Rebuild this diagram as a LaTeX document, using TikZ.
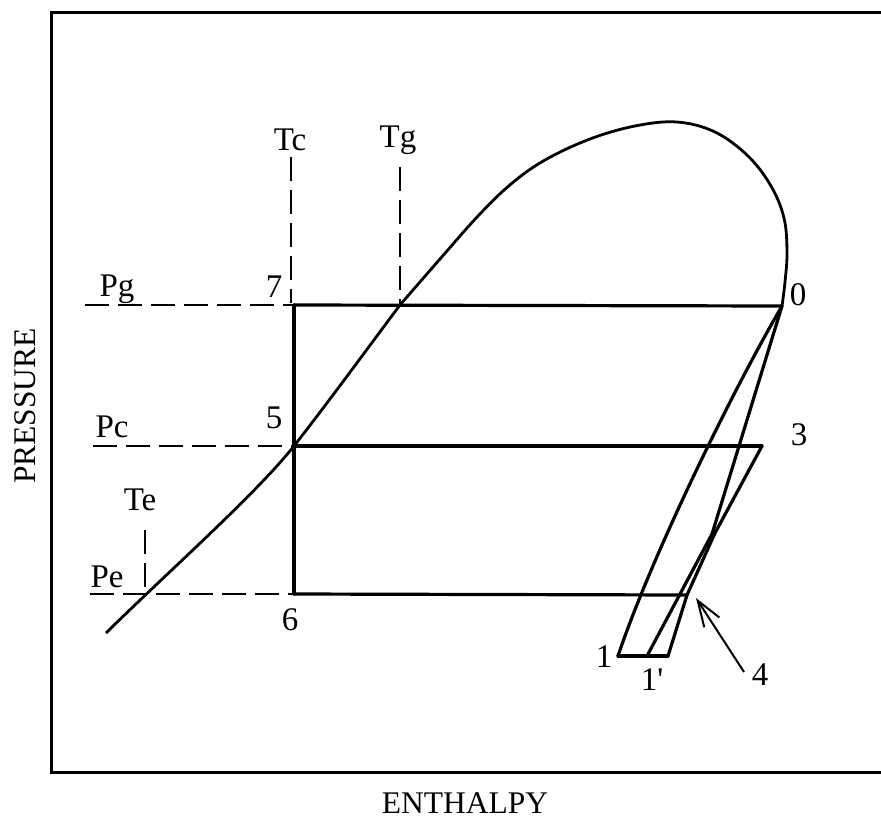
\documentclass[tikz,border=0pt]{standalone}
\usepackage{fontspec}
\setmainfont{Liberation Serif}
\usetikzlibrary{arrows.meta}
\begin{document}
\begin{tikzpicture}[x=1pt,y=-1pt,
  lbl/.style={anchor=base, inner sep=0pt, font=\fontsize{33}{38}\selectfont},
  axlbl/.style={inner sep=0pt, font=\fontsize{31.5}{36}\selectfont},
  solidln/.style={line width=3.2pt, line join=round, line cap=round},
  curveln/.style={line width=2.8pt, line join=round},
  dashln/.style={line width=2.2pt, dash pattern=on 24pt off 9pt},
  framer/.style={line width=3pt}]
\useasboundingbox (0,0) rectangle (881,819);

% frame
\coordinate (fTR) at (881,12);
\coordinate (fTL) at (51,12);
\coordinate (fBL) at (51,772);
\coordinate (fBR) at (881,772);
\draw[framer] (fTR) -- (fTL) -- (fBL) -- (fBR);

% key points
\coordinate (p7) at (294,305);
\coordinate (p5) at (294,446);
\coordinate (p6) at (294,594);
\coordinate (p0) at (782,306);
\coordinate (p3) at (762,446);
\coordinate (p4) at (687,595);
\coordinate (pX) at (712,534);
\coordinate (pY) at (715,533);
\coordinate (p1) at (618,656);
\coordinate (p1p) at (647,656);
\coordinate (pR) at (668,656);
\coordinate (pTg) at (400,305);
\coordinate (pTe) at (145,594);
\coordinate (pS) at (106,633);

% saturation dome
\draw[curveln] (pS) .. controls (170,570) and (255,495) .. (p5)
  .. controls (330,400) and (370,345) .. (pTg)
  plot[smooth, tension=0.6] coordinates {(pTg) (440,259) (478,216) (511,184) (545,160) (590,139) (635,126) (677,122) (715,132) (748,156) (771,186) (784,218) (787,252) (785,282) (p0)};

% cycle lines
\draw[solidln] (p7) -- (p0);
\draw[solidln] (p5) -- (p3);
\draw[solidln] (p6) -- (p4);
\draw[solidln] (p7) -- (p6);
\draw[solidln] (p1) -- (pR);
\draw[solidln] (p3) -- (pY) -- (p4) -- (pR);
\draw[solidln] (p0) -- (pX) -- (p1p);
\draw[solidln] (p0) .. controls (730,395) and (650,560) .. (p1);

% dashed guide lines
\coordinate (pgL) at (85,305);
\coordinate (pcL) at (93,446);
\coordinate (peL) at (90,594);
\coordinate (tcT) at (291,157);
\coordinate (tcB) at (291,303);
\coordinate (tgT) at (400,167);
\coordinate (teT) at (145,530);
\draw[dashln] (pgL) -- (p7);
\draw[dashln] (pcL) -- (p5);
\draw[dashln] (peL) -- (p6);
\draw[dashln] (tcT) -- (tcB);
\draw[dashln] (tgT) -- (pTg);
\draw[dashln] (teT) -- (pTe);

% labels
\node[lbl] (lTc) at (290,150) {Tc};
\node[lbl] (lTg) at (398,147) {Tg};
\node[lbl] (lTe) at (140,510) {Te};
\node[lbl] (lPg) at (117,296) {Pg};
\node[lbl] (lPc) at (112,437) {Pc};
\node[lbl] (lPe) at (107,587) {Pe};
\node[lbl] (l7) at (274,297) {7};
\node[lbl] (l5) at (274,428) {5};
\node[lbl] (l6) at (290,630) {6};
\node[lbl] (l0) at (798,305) {0};
\node[lbl] (l3) at (799,445) {3};
\node[lbl] (l1) at (604,667) {1};
\node[lbl] (l1p) at (652,690) {1\textquotesingle};
\node[lbl] (l4) at (760,685) {4};

% arrow to point 4
\coordinate (a4s) at (744,672);
\coordinate (a4e) at (696,598);
\draw[line width=2pt, -{Straight Barb[length=26pt,width=18pt,line width=2pt]}] (a4s) -- (a4e);

% axis labels
\node[axlbl, rotate=90] (ylab) at (25,406) {PRESSURE};
\node[axlbl] (xlab) at (465,803) {ENTHALPY};
\end{tikzpicture}
\end{document}
